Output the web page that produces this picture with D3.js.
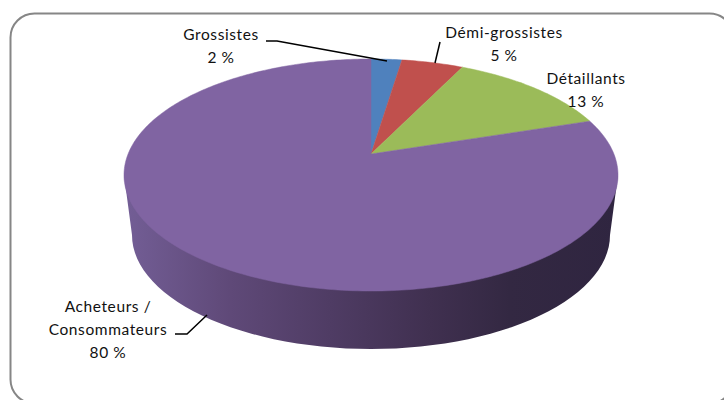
<!DOCTYPE html>
<html>
<head>
<meta charset="utf-8">
<script src="https://cdn.jsdelivr.net/npm/d3@7"></script>
<style>
  html, body { margin: 0; padding: 0; background: #fff; overflow: hidden; }
  text { font-family: Lato, "Open Sans", sans-serif; font-size: 15.5px; letter-spacing: 0.6px; fill: #111; text-anchor: middle; }
</style>
</head>
<body>
<svg id="chart" width="724" height="400"></svg>
<script>
// data (slices, labels are the rounded values)
var categories = [["Grossistes"], ["Démi-grossistes"], ["Détaillants"], ["Acheteurs /", "Consommateurs"]];
var values = [2.4, 4.8, 12.8, 80];
var colors = ["#4f81bd", "#c0504d", "#9bbb59", "#8064a2"];

// label anchor (centre x, first baseline) and leader line for each slice
var labelPos = [[221, 40], [504, 38], [586, 84], [108, 312]];
var leaders = [
  [[266, 41], [277, 41], [387, 61]],
  [[440, 42], [435, 63]],
  [],
  [[175, 334], [187, 334], [207, 315]]
];

var svg = d3.select("#chart");
var pct = d3.format(".0f");

// top face ellipse, and the apex sits above its centre because of the perspective
var cx = 371, cy = 175, rx = 247, ry = 116, apexY = 154;
// bottom rim
var bx = 371, by = 235, brx = 239, bry = 114;
var k = Math.sqrt((apexY - (cy - ry)) / ((cy + ry) - apexY));

function project(a) {
  var t = 2 * Math.atan2(k * Math.sin(a / 2), Math.cos(a / 2));
  return [cx + rx * Math.sin(t), cy - ry * Math.cos(t)];
}

var line = d3.line();

// side wall gradient
var grad = svg.append("defs").append("linearGradient")
  .attr("id", "wall")
  .attr("gradientUnits", "userSpaceOnUse")
  .attr("x1", 124).attr("x2", 618).attr("y1", 0).attr("y2", 0);
var wallX = d3.scaleLinear().domain([124, 618]).range([0, 1]);
[[124, "#735e96"], [230, "#5f4978"], [330, "#4f3c64"], [430, "#403050"], [510, "#332842"], [618, "#2f2540"]]
  .forEach(function(s) {
    grad.append("stop").attr("offset", wallX(s[0])).attr("stop-color", s[1]);
  });

// frame
svg.append("rect")
  .attr("x", 10.5).attr("y", 13.5)
  .attr("width", 723).attr("height", 390)
  .attr("rx", 24).attr("ry", 24)
  .attr("fill", "#fff")
  .attr("stroke", "#868686")
  .attr("stroke-width", 2);

// wall: down the right side, along the lower half of the bottom rim, back up the left
var rim = d3.range(0, 181, 3).map(function(d) {
  var r = d * Math.PI / 180;
  return [bx + brx * Math.cos(r), by + bry * Math.sin(r)];
});
var wallPts = [[cx + rx, cy]].concat(rim, [[cx - rx, cy]]);
svg.append("path")
  .attr("d", line(wallPts) + "Z")
  .attr("fill", "url(#wall)");

// top face slices
var pie = d3.pie().sort(null).startAngle(0).endAngle(2 * Math.PI);
var slices = pie(values);

svg.selectAll("path.slice")
  .data(slices)
  .enter()
  .append("path")
    .attr("class", "slice")
    .attr("d", function(d) {
      var n = Math.max(4, Math.ceil((d.endAngle - d.startAngle) * 60));
      var pts = d3.range(n + 1).map(function(i) {
        return project(d.startAngle + (d.endAngle - d.startAngle) * i / n);
      });
      return line([[cx, apexY]].concat(pts)) + "Z";
    })
    .attr("fill", function(d, i) { return colors[i]; })
    .attr("stroke", function(d, i) { return colors[i]; })
    .attr("stroke-width", 0.5);

// leader lines
svg.selectAll("path.leader")
  .data(leaders)
  .enter()
  .append("path")
    .attr("class", "leader")
    .attr("d", function(d) { return d.length ? line(d) : null; })
    .attr("fill", "none")
    .attr("stroke", "#000")
    .attr("stroke-width", 1.5);

// labels
var labels = svg.selectAll("text.label")
  .data(categories)
  .enter()
  .append("text")
    .attr("class", "label")
    .attr("x", function(d, i) { return labelPos[i][0]; })
    .attr("y", function(d, i) { return labelPos[i][1]; });

labels.each(function(d, i) {
  var lines = d.concat([pct(values[i]) + " %"]);
  d3.select(this).selectAll("tspan")
    .data(lines)
    .enter()
    .append("tspan")
      .attr("x", labelPos[i][0])
      .attr("dy", function(l, j) { return j ? 23 : 0; })
      .text(function(l) { return l; });
});
</script>
</body>
</html>
